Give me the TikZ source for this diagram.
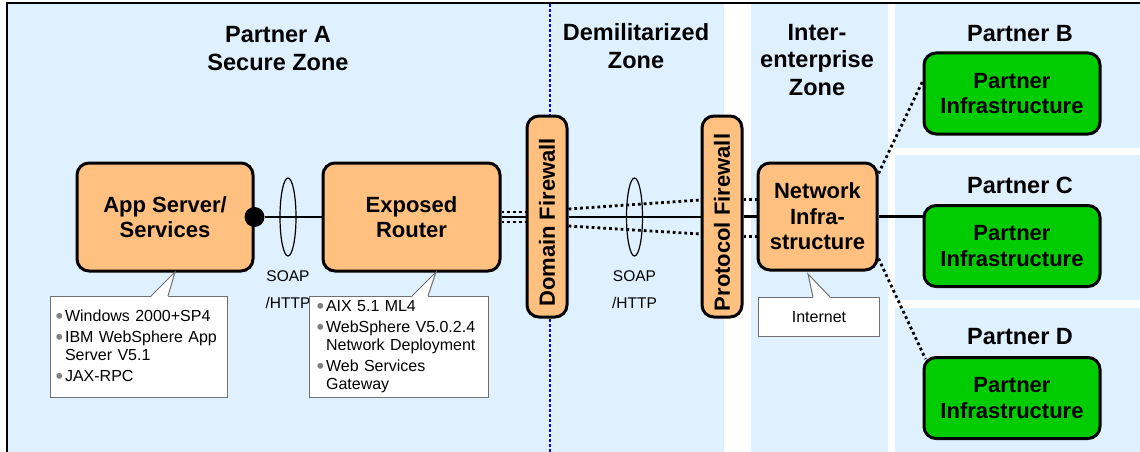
\documentclass[tikz,border=0pt]{standalone}
\usepackage{fontspec}
\usepackage{graphicx}
\setmainfont{Liberation Sans}
\usetikzlibrary{calc,positioning,shapes.geometric}
\definecolor{ZoneBlue}{HTML}{DFF0FF}
\definecolor{BoxOrange}{HTML}{FFC080}
\definecolor{BoxGreen}{HTML}{00CC00}
\definecolor{NoteGray}{HTML}{707070}
\definecolor{DividerBlue}{HTML}{0000FF}
\newcommand{\notebul}{\textcolor{gray}{\raisebox{-0.12em}{\scalebox{1.35}{\textbullet}}}\hspace{2pt}}
\newcommand{\notegap}{\phantom{\scalebox{1.35}{\textbullet}}\hspace{2pt}}

\begin{document}
\begin{tikzpicture}[x=1pt,y=-1pt,
    zonetitle/.style={font=\fontsize{23.5}{27.5}\selectfont\bfseries,align=center,inner sep=0pt},
    unit/.style={draw,line width=3pt,rounded corners=12pt,fill=BoxOrange,
      font=\fontsize{22}{25.5}\selectfont\bfseries,align=center,inner sep=0pt},
    partnerbox/.style={unit,fill=BoxGreen,minimum width=176pt,minimum height=81pt},
    firewall/.style={unit,rotate=90,minimum width=201pt,minimum height=40pt},
    notebox/.style={draw=NoteGray,fill=white,line width=1pt,inner ysep=0pt,
      font=\fontsize{16}{18.3}\selectfont,align=left,anchor=north west},
    soap/.style={font=\fontsize{15.5}{27}\selectfont,align=center,inner sep=0pt},
    pipe/.style={draw,ellipse,line width=1.2pt,minimum width=16pt,minimum height=78pt,inner sep=0pt},
    link/.style={line width=2.8pt},
    dotlink/.style={line width=2.8pt,dash pattern=on 2.8pt off 3pt}]
    \useasboundingbox (0,0) rectangle (1140,452);
    \fill[ZoneBlue] (8,4) rectangle (724,452);
    \fill[ZoneBlue] (751,4) rectangle (888,452);
    \foreach \top/\bot in {4/148,155/300,308/452}
      \fill[ZoneBlue] (895,\top) rectangle (1140,\bot);
    \draw[DividerBlue,line width=2.8pt,dash pattern=on 3pt off 2pt] (550,4) -- (550,452);
    \draw[line width=1.5pt] (7,452) -- (7,3) -- (1140,3);

    \node[zonetitle] (titleA) at (278,48.5) {Partner A\\Secure Zone};
    \node[zonetitle] (titleDMZ) at (636,46) {Demilitarized\\Zone};
    \node[zonetitle] (titleIE) at (817,60) {Inter-\\enterprise\\Zone};

    \node[unit,minimum width=176pt,minimum height=108pt] (app) at (165,217) {App Server/\\Services};
    \node[unit,minimum width=177pt,minimum height=108pt] (router) at (411.5,217) {Exposed\\Router};
    \node[firewall] (domainfw) at (547,216.5) {Domain Firewall\hspace*{12pt}};
    \node[firewall] (protofw) at (722,216.5) {Protocol Firewall\hspace*{12pt}};
    \node[unit,minimum width=119pt,minimum height=107pt] (netinfra) at (817.5,216.5) {Network\\Infra-\\structure};
    \foreach \name/\ty/\by in {B/33.5/93.5,C/185/246,D/337/398}{%
      \node[zonetitle] (title\name) at (1020,\ty) {Partner \name};
      \node[partnerbox] (partner\name) at (1012,\by) {Partner\\Infrastructure};
    }

    \node[circle,fill,inner sep=0pt,minimum size=20pt] (plug) at (app.east) {};
    \node[pipe] (pipeA) at ($(plug)!0.5!(router.west)$) {};
    \node[pipe] (pipeB) at ($(router.east -| domainfw.south)!0.5!(router.east -| protofw.north)$) {};
    \node[soap,below=14pt of pipeA] (soapA) {SOAP\\/HTTP};
    \node[soap,below=14pt of pipeB] (soapB) {SOAP\\/HTTP};

    \draw[link] (plug) -- (router.west);
    \draw[link] (router.east) -- (router.east -| domainfw.north);
    \foreach \s in {-5,5}
      \draw[dotlink] ($(router.east)+(0,\s)$) -- ($(router.east -| domainfw.north)+(0,\s)$);
    \draw[link] (router.east -| domainfw.south) -- (router.east -| protofw.north);
    \foreach \a/\b in {-8/-17,9/17}
      \draw[dotlink] ($(router.east -| domainfw.south)+(0,\a)$) -- ($(router.east -| protofw.north)+(0,\b)$);
    \draw[link] (netinfra.west -| protofw.south) -- (netinfra.west);
    \foreach \s in {-17,20}
      \draw[dotlink] ($(netinfra.west -| protofw.south)+(0,\s)$) -- ($(netinfra.west)+(0,\s)$);
    \draw[dotlink] ($(netinfra.east)+(0,-43)$) -- ($(partnerB.west)+(0,-12)$);
    \draw[link] (netinfra.east) -- (netinfra.east -| partnerC.west);
    \draw[dotlink] ($(netinfra.east)+(0,42)$) -- ($(partnerD.north west)+(3,3)$);

    \node[notebox,inner xsep=5pt,text width=167pt,minimum height=101pt] (appnote) at (50,296)
      {\notebul Windows 2000+SP4\\[2.5pt]\notebul IBM WebSphere App\\\notegap Server V5.1\\[2.5pt]\notebul JAX-RPC};
    \node[notebox,inner xsep=7pt,text width=165pt,minimum height=101pt] (routernote) at (309,296)
      {\notebul AIX 5.1 ML4\\[2.5pt]\notebul WebSphere V5.0.2.4\\\notegap Network Deployment\\[2.5pt]\notebul Web Services\\\notegap Gateway};
    \node[notebox,align=center,minimum width=121pt,minimum height=39pt] (netnote) at (758,297) {Internet};
    \foreach \l/\r/\y/\t in {151/168/296/{175,272},412/428/296/{436,272},813/830/297/{808,274}}{%
      \fill[white] (\l,\y+1) -- (\t) -- (\r,\y+1) -- cycle;
      \draw[NoteGray,line width=1pt] (\l,\y) -- (\t) -- (\r,\y);
    }
  \end{tikzpicture}
\end{document}
